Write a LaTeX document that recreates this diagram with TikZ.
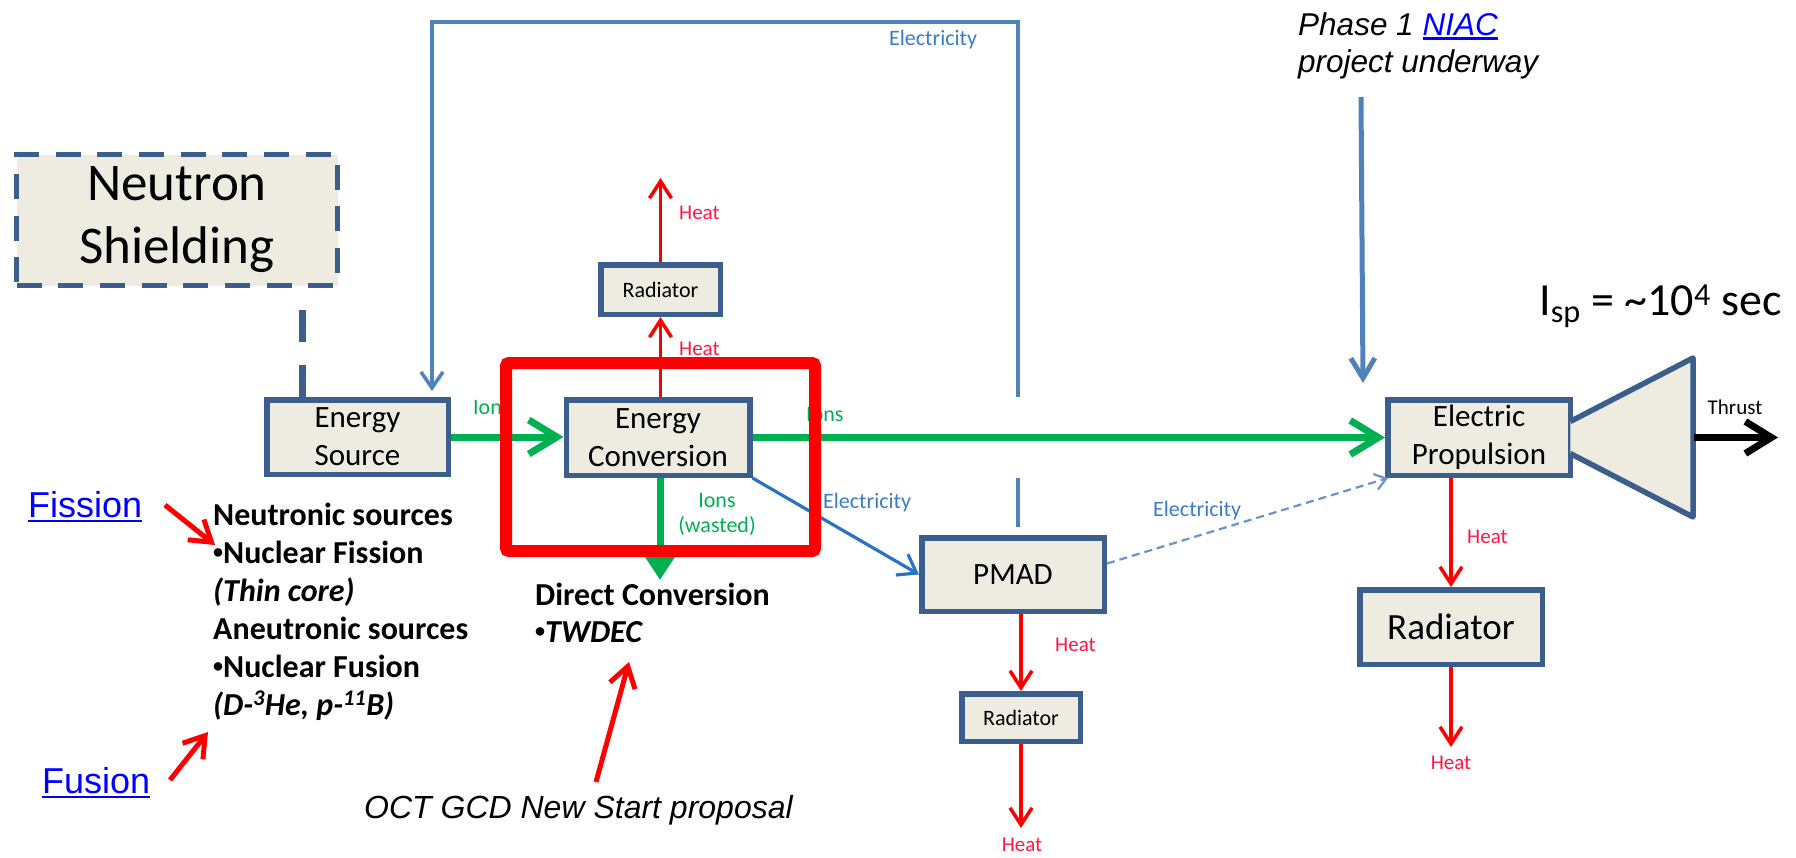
\documentclass[tikz,border=0pt]{standalone}
\usepackage{fontspec}
\setmainfont{Carlito}
\newfontfamily\arialfont{Liberation Sans}
\usetikzlibrary{arrows.meta,calc}

\definecolor{boxfill}{HTML}{EEECE1}
\definecolor{boxline}{HTML}{3B5E8C}
\definecolor{loopblue}{HTML}{4F81BD}
\definecolor{elecblue}{HTML}{2874C4}
\definecolor{eleclabel}{HTML}{3A7CC8}
\definecolor{ionsgreen}{HTML}{00B050}
\definecolor{heatred}{HTML}{FF0000}
\definecolor{heattext}{HTML}{FF1744}
\definecolor{linkblue}{HTML}{0000FF}

% font size shortcut
\newcommand\fs[2]{\fontsize{#1}{#2}\selectfont}
% underlined hyperlink look
\newcommand\linked[1]{\textcolor{linkblue}{\setbox0=\hbox{#1}\rlap{\rule[-0.145em]{\wd0}{0.072em}}\box0}}
% small list bullet
\newcommand\lbullet{{\fontsize{20}{20}\selectfont\raisebox{4.5pt}{•}}}

\begin{document}
\begin{tikzpicture}[x=1pt,y=-1pt,
  blk/.style={draw=boxline, fill=boxfill, line width=5.5pt, inner sep=0pt, align=center, text=black},
  shieldbox/.style={blk, line width=4.5pt, dash pattern=on 25pt off 16.7pt},
  heat/.style={draw=heatred, line width=3.5pt, -{Straight Barb[length=17pt,width=22pt]}},
  ionflow/.style={draw=ionsgreen, line width=7pt, -{Straight Barb[length=28pt,width=34pt]}},
  elecflow/.style={draw=elecblue, line width=3.2pt, -{Straight Barb[length=17pt,width=24pt]}},
  loopline/.style={draw=loopblue, line width=3.5pt},
  dashelec/.style={draw=loopblue!85!white, line width=2.2pt, dash pattern=on 8pt off 5pt, -{Straight Barb[length=11pt,width=16pt]}},
  callout/.style={draw=heatred, line width=5pt, -{Straight Barb[length=20pt,width=26pt]}},
  phasearrow/.style={draw=loopblue, line width=5pt, -{Straight Barb[length=20pt,width=24pt]}},
  thrust/.style={draw=black, line width=7pt, -{Straight Barb[length=26pt,width=32pt]}},
  heatlbl/.style={text=heattext, font=\fs{21}{25}, inner sep=0pt},
  ionlbl/.style={text=ionsgreen, font=\fs{22}{25}, inner sep=0pt},
  eleclbl/.style={text=eleclabel, font=\fs{22}{25}, inner sep=0pt},
]
\useasboundingbox (0,0) rectangle (1796,857);

% ---- blocks ----
\node[shieldbox, minimum width=321pt, minimum height=131pt, font=\fs{53}{63}] (shield) at (177,220) {Neutron\\Shielding};
\node[blk, minimum width=181.5pt, minimum height=74.5pt, font=\fs{31}{38}] (es) at (357.5,437) {Energy\\Source};
\node[blk, minimum width=183.5pt, minimum height=75.5pt, font=\fs{31}{38}] (ec) at (658,437.5) {Energy\\Conversion};
\node[blk, minimum width=119.5pt, minimum height=49.5pt, font=\fs{22}{26}] (rad1) at (660.5,289.5) {Radiator};
\node[blk, minimum width=182.5pt, minimum height=73.5pt, font=\fs{31}{38}] (pmad) at (1013,574.5) {PMAD};
\node[blk, minimum width=118.5pt, minimum height=47.5pt, font=\fs{22}{26}] (rad2) at (1021,717.5) {Radiator};
\node[blk, minimum width=182.5pt, minimum height=75.5pt, font=\fs{31}{38}] (ep) at (1479,437.5) {Electric\\Propulsion};
\node[blk, minimum width=182.5pt, minimum height=74.5pt, font=\fs{37}{44}] (rad3) at (1451,627) {Radiator};

% thruster nozzle
\draw[draw=boxline, fill=boxfill, line width=5.5pt, line join=round]
  ($(ep.east)+(-2.75,-16)$) -- ($(ep.east)+(120,-79.5)$) -- ($(ep.east)+(120,79.5)$) -- ($(ep.east)+(-2.75,16)$);
\coordinate (nozzleExit) at ($(ep.east)+(121,0)$);
\coordinate (thrustEnd) at (1778,437.5);

% ---- shielding link ----
\draw[draw=boxline, line width=7pt, dash pattern=on 32pt off 23pt]
  ($(shield.south)+(125,22)$) -- ($(es.north)+(-55.5,0)$);

% ---- ion paths ----
\draw[ionflow] (es.east) -- (es.east -| ec.west);
\draw[ionflow] (ec.east) -- (ec.east -| ep.west);
\coordinate (wasteEnd) at (660,580);
\draw[draw=ionsgreen, line width=7pt, -{Triangle[length=26pt,width=32pt]}] (ec.south -| wasteEnd) -- (wasteEnd);
\node[ionlbl, anchor=base west] (ionsA) at (473,414) {Ions};
\node[ionlbl, anchor=base west] (ionsB) at (806,421) {Ions};
\node[ionlbl, align=center] (ionsW) at (717,514) {Ions\\(wasted)};

% ---- heat paths ----
\coordinate (heatA) at (660.5,178);
\coordinate (heatB) at (1021,828);
\coordinate (heatC) at (1451,747);
\draw[heat] (ec.north -| rad1.south) -- (rad1.south);
\draw[heat] (rad1.north) -- (heatA);
\draw[heat] (pmad.south -| rad2.north) -- (rad2.north);
\draw[heat] (rad2.south) -- (heatB);
\draw[heat] (ep.south -| rad3.north) -- (rad3.north);
\draw[heat] (rad3.south) -- (heatC);
\node[heatlbl, anchor=west] at (679,213) {Heat};
\node[heatlbl, anchor=west] at (679,349) {Heat};
\node[heatlbl, anchor=west] at (1055,645) {Heat};
\node[heatlbl] at (1022,845) {Heat};
\node[heatlbl, anchor=west] at (1467,537) {Heat};
\node[heatlbl] at (1451,763) {Heat};

% ---- electricity paths ----
\draw[elecflow] (ec.south east) -- (pmad.west);
\node[eleclbl, anchor=west] at (823,503) {Electricity};
\draw[dashelec] ([yshift=11pt]pmad.east) -- ([xshift=3pt]ep.south west);
\node[eleclbl, anchor=west] at (1153,511) {Electricity};
\coordinate (gapLow) at (1018,478);
\coordinate (gapHigh) at (1018,397);
\coordinate (loopR) at (1018,22);
\coordinate (loopL) at (432,22);
\draw[loopline, shorten <=8pt] ([xshift=5pt]pmad.north) -- (gapLow);
\draw[loopline, -{Straight Barb[length=16pt,width=22pt]}, shorten >=6pt]
  (gapHigh) -- (loopR) -- (loopL) -- (loopL |- es.north);
\node[eleclbl, anchor=west] at (889,40) {Electricity};

% ---- thrust ----
\draw[thrust] (nozzleExit) -- (thrustEnd);
\node[font=\fs{21}{25}, inner sep=0pt] (thrustlbl) at (1735,407) {Thrust};
\node[anchor=base west, inner sep=0pt, font=\fs{46}{52}] (isp) at (1539,315) {I\textsubscript{sp} = \textasciitilde10\textsuperscript{4} sec};

% ---- source notes ----
\node[anchor=base west, inner sep=0pt, font=\fs{32}{38}\bfseries] (sources) at (213,525)
  {\begin{tabular}[t]{@{}l@{}}Neutronic sources\\\lbullet Nuclear Fission\\\textit{(Thin core)}\\Aneutronic sources\\\lbullet Nuclear Fusion\\\textit{(D-\textsuperscript{3}He, p-\textsuperscript{11}B)}\end{tabular}};
\node[anchor=base west, inner sep=0pt, font=\fs{32}{37}\bfseries] (direct) at (535,605)
  {\begin{tabular}[t]{@{}l@{}}Direct Conversion\\\lbullet\textit{TWDEC}\end{tabular}};

\node[anchor=base west, inner sep=0pt, font=\arialfont\fs{36}{42}] (fission) at (28,517) {\linked{Fission}};
\node[anchor=base west, inner sep=0pt, font=\arialfont\fs{36}{42}] (fusion) at (42,793) {\linked{Fusion}};
\coordinate (fisTail) at (165,505);
\coordinate (fisTip) at (215,545);
\coordinate (fusTail) at (170,780);
\coordinate (fusTip) at (208,732);
\draw[callout] (fisTail) -- (fisTip);
\draw[callout] (fusTail) -- (fusTip);

\node[anchor=base west, inner sep=0pt, font=\arialfont\itshape\fs{32}{38}] (oct) at (364,818) {OCT GCD New Start proposal};
\coordinate (octTail) at (596,782);
\coordinate (octTip) at (629,662);
\draw[callout] (octTail) -- (octTip);

\node[anchor=base west, inner sep=0pt, font=\arialfont\itshape\fs{31.5}{37}] (phase) at (1298,35)
  {\begin{tabular}[t]{@{}l@{}}Phase 1 \linked{NIAC}\\project underway\end{tabular}};
\coordinate (phaseTail) at (1361,97);
\draw[phasearrow] (phaseTail) -- ([xshift=-116pt,yshift=14pt]ep.north);

% ---- highlight frame around the conversion stage ----
\draw[draw=heatred, line width=12pt, rounded corners=3pt] (506,363) rectangle (815,551);
\end{tikzpicture}
\end{document}
